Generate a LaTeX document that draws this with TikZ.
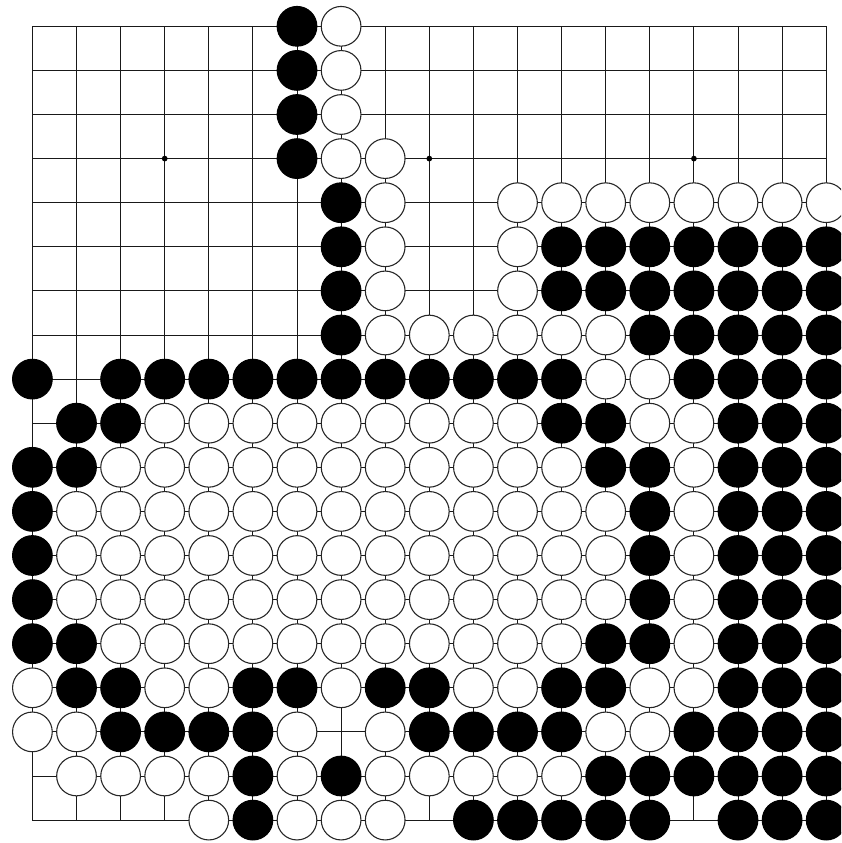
\documentclass[tikz,border=0pt]{standalone}
\usepackage{tikz}

\begin{document}
\begin{tikzpicture}[
        x=1cm, y=1cm,
        gridline/.style={draw=black!90, line width=0.65pt, line cap=rect},
        hoshi/.style={fill=black},
        whitestone/.style={draw=black!85, fill=white, line width=0.7pt},
        blackstone/.style={draw=black, fill=black, line width=0.7pt}
    ]

    % --- FRAME (board is cut off on the right) ---
    \useasboundingbox (0.2653,-0.4036) rectangle (19.3356,-19.5193);
    \clip (0.2653,-0.4036) rectangle (19.3356,-19.5193);

    % --- GRID ---
    \foreach \i in {1,...,19} {
        \draw[gridline] (\i,-1) -- (\i,-19);
        \draw[gridline] (1,-\i) -- (19,-\i);
    }

    % --- STAR POINTS ---
    \foreach \hx in {4,10,16}
        \foreach \hy in {4,10,16}
            \fill[hoshi] (\hx,-\hy) circle (0.065);

    % --- BLACK STONES (row/columns) ---
    \foreach \r/\cols in {1/{7}, 2/{7}, 3/{7}, 4/{7},
            5/{8},
            6/{8,13,14,15,16,17,18,19},
            7/{8,13,14,15,16,17,18,19},
            8/{8,15,16,17,18,19},
            9/{1,3,4,5,6,7,8,9,10,11,12,13,16,17,18,19},
            10/{2,3,13,14,17,18,19},
            11/{1,2,14,15,17,18,19},
            12/{1,15,17,18,19},
            13/{1,15,17,18,19},
            14/{1,15,17,18,19},
            15/{1,2,14,15,17,18,19},
            16/{2,3,6,7,9,10,13,14,17,18,19},
            17/{3,4,5,6,10,11,12,13,16,17,18,19},
            18/{6,8,14,15,16,17,18,19},
            19/{6,11,12,13,14,15,17,18,19}} {
        \foreach \c in \cols
            \draw[blackstone] (\c,-\r) circle (0.45);
    }

    % --- WHITE STONES (row/columns) ---
    \foreach \r/\cols in {1/{8}, 2/{8}, 3/{8}, 4/{8,9},
            5/{9,12,13,14,15,16,17,18,19},
            6/{9,12},
            7/{9,12},
            8/{9,10,11,12,13,14},
            9/{14,15},
            10/{4,5,6,7,8,9,10,11,12,15,16},
            11/{3,4,5,6,7,8,9,10,11,12,13,16},
            12/{2,3,4,5,6,7,8,9,10,11,12,13,14,16},
            13/{2,3,4,5,6,7,8,9,10,11,12,13,14,16},
            14/{2,3,4,5,6,7,8,9,10,11,12,13,14,16},
            15/{3,4,5,6,7,8,9,10,11,12,13,16},
            16/{1,4,5,8,11,12,15,16},
            17/{1,2,7,9,14,15},
            18/{2,3,4,5,7,9,10,11,12,13},
            19/{5,7,8,9}} {
        \foreach \c in \cols
            \draw[whitestone] (\c,-\r) circle (0.45);
    }

\end{tikzpicture}
\end{document}
